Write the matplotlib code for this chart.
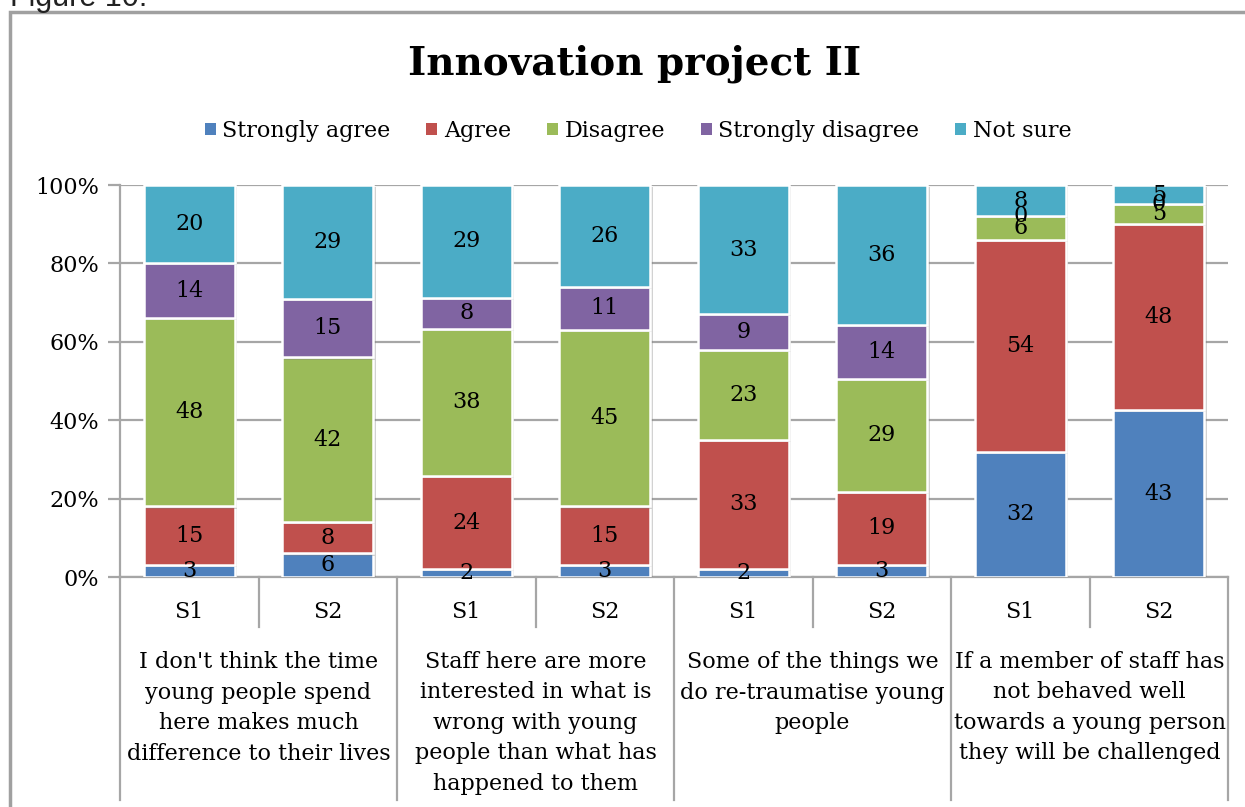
import matplotlib
matplotlib.use("Agg")
import matplotlib.pyplot as plt
import matplotlib.transforms as mtransforms
import matplotlib.patheffects as pe
from matplotlib.patches import Patch, Rectangle
import numpy as np

series_names = ["Strongly agree", "Agree", "Disagree", "Strongly disagree", "Not sure"]
colors = ["#4F81BD", "#C0504D", "#9BBB59", "#8064A2", "#4BACC6"]
bar_labels = ["S1", "S2", "S1", "S2", "S1", "S2", "S1", "S2"]
group_labels = [
    "I don't think the time\nyoung people spend\nhere makes much\ndifference to their lives",
    "Staff here are more\ninterested in what is\nwrong with young\npeople than what has\nhappened to them",
    "Some of the things we\ndo re-traumatise young\npeople",
    "If a member of staff has\nnot behaved well\ntowards a young person\nthey will be challenged",
]
strongly_agree = [3, 6, 2, 3, 2, 3, 32, 43]
agree = [15, 8, 24, 15, 33, 19, 54, 48]
disagree = [48, 42, 38, 45, 23, 29, 6, 5]
strongly_disagree = [14, 15, 8, 11, 9, 14, 0, 0]
not_sure = [20, 29, 29, 26, 33, 36, 8, 5]
yticks = [0, 20, 40, 60, 80, 100]

FONT = "DejaVu Serif"
FS = 16
W, H = 1245, 807
fig = plt.figure(figsize=(W / 100, H / 100), dpi=100)

def fx(px):
    return px / W

def fy(py):
    return 1 - py / H

# outer chart border
fig.patches.append(Rectangle((fx(10), fy(900)), fx(1300), fy(12) - fy(900),
                             transform=fig.transFigure, fill=False,
                             edgecolor="#A0A0A0", lw=2.5, zorder=0))
fig.text(fx(10), fy(6), "Figure 10.", family="Liberation Sans", fontsize=22,
         va="baseline", ha="left", color="#222222")

ax = fig.add_axes([fx(120), fy(577), fx(1228) - fx(120), fy(185) - fy(577)])

data = [strongly_agree, agree, disagree, strongly_disagree, not_sure]
arr = np.array(data, dtype=float)
pct = arr / arr.sum(axis=0) * 100
x = np.arange(len(bar_labels))
bottom = np.zeros(len(x))
shadow = [pe.SimplePatchShadow(offset=(1.5, -1.5), shadow_rgbFace="#808080", alpha=0.35),
          pe.Normal()]
for name, col, vals, p in zip(series_names, colors, data, pct):
    bars = ax.bar(x, p, 0.66, bottom=bottom, color=col, edgecolor="white", lw=1.8,
                  label=name, zorder=3)
    for b in bars:
        b.set_path_effects(shadow)
    for xi, b, h, v in zip(x, bottom, p, vals):
        ax.text(xi, b + h / 2, str(v), ha="center", va="center",
                family=FONT, fontsize=FS, color="black", zorder=4)
    bottom += p

ax.set_xlim(-0.5, len(x) - 0.5)
ax.set_ylim(0, 100)
ax.set_yticks(yticks)
ax.set_yticklabels([f"{t}%" for t in yticks], family=FONT, fontsize=FS)
ax.yaxis.grid(True, color="#A6A6A6", lw=1.6, zorder=0)
ax.tick_params(axis="y", length=9, width=1.6, color="#A6A6A6", pad=6)
ax.set_xticks([])
for s in ["top", "right"]:
    ax.spines[s].set_visible(False)
ax.spines["left"].set_color("#A6A6A6")
ax.spines["left"].set_linewidth(1.6)
ax.spines["bottom"].set_color("#A6A6A6")
ax.spines["bottom"].set_linewidth(1.6)

trans = mtransforms.blended_transform_factory(ax.transData, ax.transAxes)
axh = 577 - 185
for xv in [-0.5, 1.5, 3.5, 5.5, 7.5]:
    ax.plot([xv, xv], [0, -(800 - 577) / axh], transform=trans, color="#A6A6A6",
            lw=1.6, clip_on=False)
for xv in [0.5, 2.5, 4.5, 6.5]:
    ax.plot([xv, xv], [0, -(627 - 577) / axh], transform=trans, color="#A6A6A6",
            lw=1.6, clip_on=False)
for xi, lab in zip(x, bar_labels):
    ax.text(xi, -(612 - 577) / axh, lab, transform=trans, ha="center",
            va="center", family=FONT, fontsize=FS)
for gi, lab in enumerate(group_labels):
    ax.text(2 * gi + 0.5, -(651 - 577) / axh, lab, transform=trans,
            ha="center", va="top", family=FONT, fontsize=FS, linespacing=1.5)

fig.text(fx(635), fy(64), "Innovation project II", ha="center", va="center",
         family=FONT, fontsize=28, fontweight="bold")

handles = [Patch(facecolor=c, edgecolor="none") for c in colors]
fig.legend(handles, series_names, loc="center", bbox_to_anchor=(fx(638), fy(131)),
           ncol=5, frameon=False, prop={"family": FONT, "size": FS},
           handlelength=0.5, handleheight=0.5, handletextpad=0.3,
           columnspacing=1.6)

fig.savefig("out.png", dpi=100)
